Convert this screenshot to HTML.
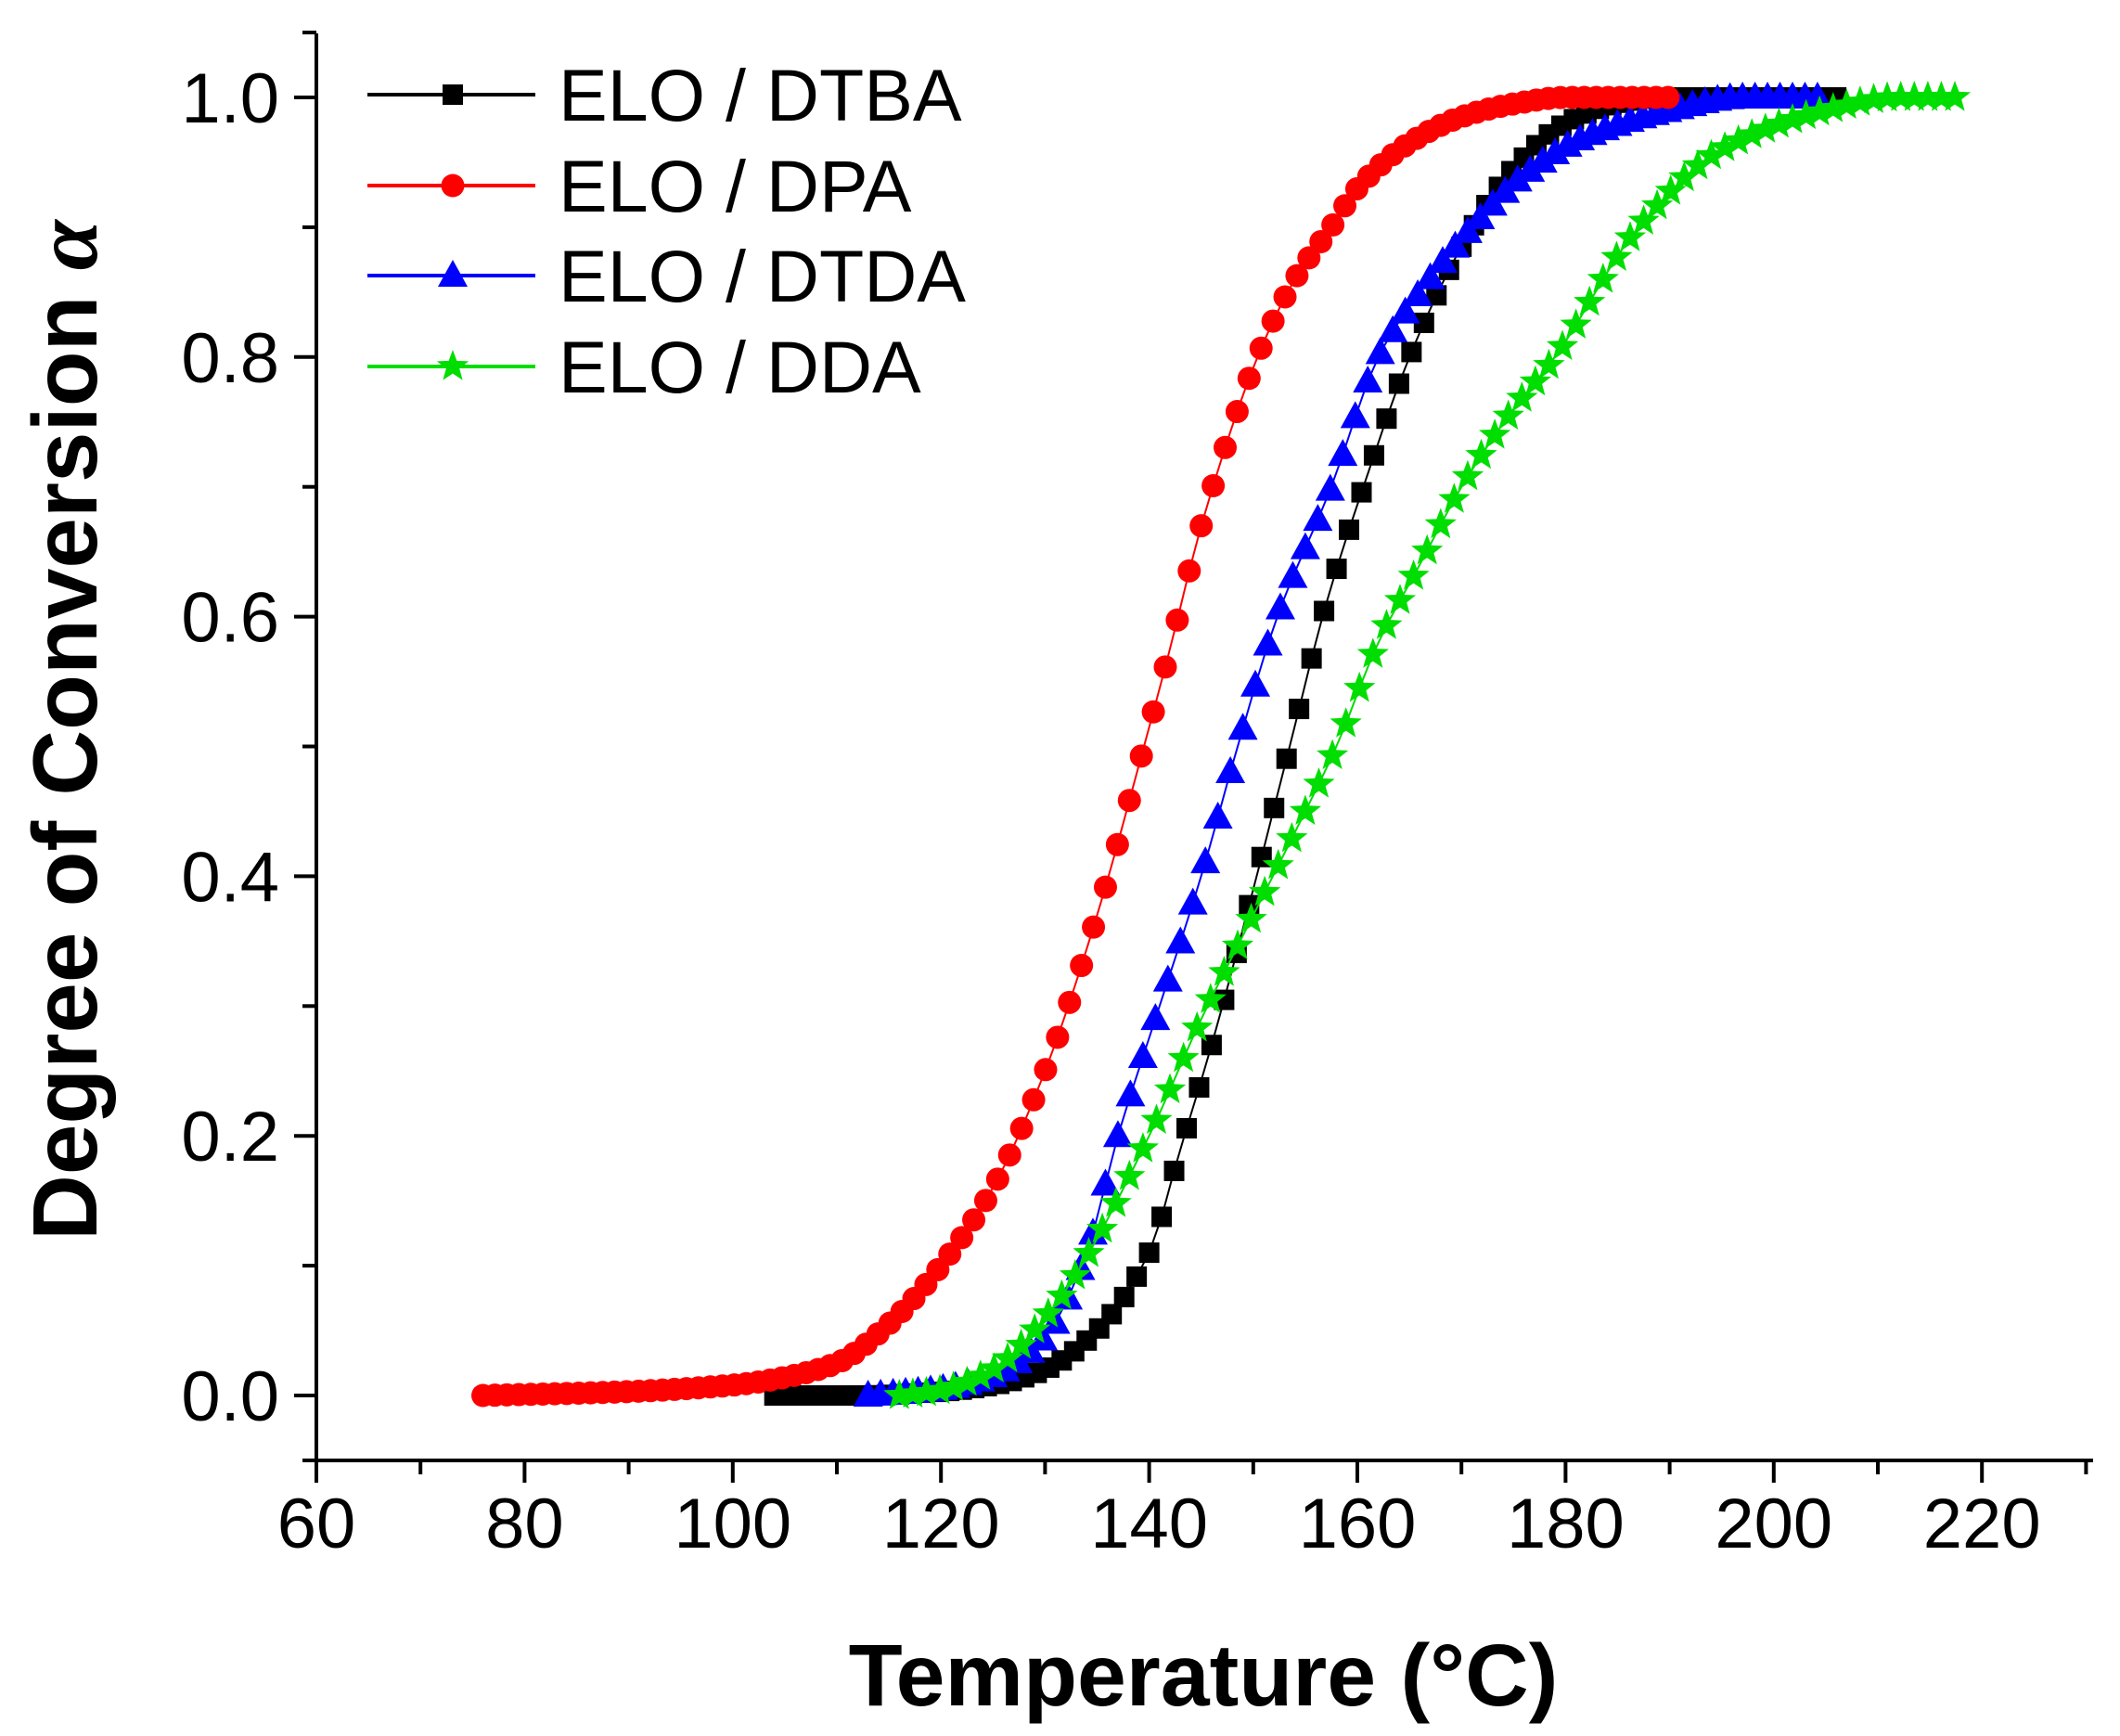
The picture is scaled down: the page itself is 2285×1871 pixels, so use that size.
<!DOCTYPE html>
<html><head><meta charset="utf-8"><style>
html,body{margin:0;padding:0;background:#fff}
svg{display:block}
text{font-family:"Liberation Sans",Arial,sans-serif}
</style></head><body>
<svg id="s" width="2285" height="1871" viewBox="0 0 2285 1871" xmlns="http://www.w3.org/2000/svg">
<g id="plot"></g>
<g stroke="#000" stroke-width="4" fill="none">
<line x1="341" y1="36" x2="341" y2="1576"/>
<line x1="339" y1="1574" x2="2256" y2="1574"/>
</g>
<g id="ticks" stroke="#000" stroke-width="4"></g>
<g id="labels" font-size="76" fill="#000"></g>
<text x="1297" y="1838" font-size="95" font-weight="bold" text-anchor="middle">Temperature (°C)</text>
<text transform="translate(104,787) rotate(-90)" font-size="98" font-weight="bold" text-anchor="middle">Degree of Conversion <tspan font-style="italic" font-family="Liberation Serif, serif">α</tspan></text>
<g id="legend"></g>
</svg>
<script>
var NS="http://www.w3.org/2000/svg";
function X(t){return 341+(t-60)*11.22;}
function Y(a){return 1504-a*1399;}
function el(p,n,at,txt){var e=document.createElementNS(NS,n);for(var k in at)e.setAttribute(k,at[k]);if(txt!=null)e.textContent=txt;p.appendChild(e);return e;}
var tk=document.getElementById('ticks'),lb=document.getElementById('labels');
for(var t=60;t<=230;t+=10){var maj=(t%20==0);el(tk,'line',{x1:X(t),y1:1574,x2:X(t),y2:1574+(maj?24:15)});
 if(maj)el(lb,'text',{x:X(t),y:1668,'text-anchor':'middle'},t);}
for(var k=0;k<=10;k++){var a=k/10;var maj=(k%2==0);el(tk,'line',{x1:341,y1:Y(a),x2:341-(maj?24:15),y2:Y(a)});
 if(maj)el(lb,'text',{x:301,y:Y(a)+27,'text-anchor':'end'},a.toFixed(1));}
el(tk,'line',{x1:341,y1:Y(-0.05),x2:326,y2:Y(-0.05)});
el(tk,'line',{x1:341,y1:Y(1.05),x2:326,y2:Y(1.05)});
function mk(pts){var n=pts.length,x=pts.map(p=>p[0]),y=pts.map(p=>p[1]),d=[],m=[];
 for(var i=0;i<n-1;i++)d.push((y[i+1]-y[i])/(x[i+1]-x[i]));
 m[0]=d[0];m[n-1]=d[n-2];
 for(var i=1;i<n-1;i++){m[i]=(d[i-1]*d[i]<=0)?0:2/(1/d[i-1]+1/d[i]);}
 return function(t){if(t<=x[0])return y[0];if(t>=x[n-1])return y[n-1];
  for(var i=0;i<n-1;i++)if(t<=x[i+1]){var h=x[i+1]-x[i],s=(t-x[i])/h;
   var h00=2*s*s*s-3*s*s+1,h10=s*s*s-2*s*s+s,h01=-2*s*s*s+3*s*s,h11=s*s*s-s*s;
   return h00*y[i]+h10*h*m[i]+h01*y[i+1]+h11*h*m[i+1];}};}
var series=[
{c:'#000',m:'sq',step:1.2,pts:[[104,0],[112,0],[120,0.003],[125,0.008],[130,0.02],[135,0.05],[140,0.11],[143,0.19],[146,0.27],[150,0.39],[153.5,0.5],[157,0.61],[161,0.71],[165,0.8],[170,0.885],[175,0.945],[180,0.98],[185,0.995],[190,1],[207,1]]},
{c:'#0000ff',m:'tri',step:1.2,pts:[[113,0],[120,0.005],[125,0.015],[130,0.045],[134,0.11],[137,0.2],[141,0.3],[145,0.4],[148.5,0.5],[152.3,0.6],[157.5,0.7],[162,0.8],[166,0.85],[171,0.9],[176,0.94],[182,0.97],[190,0.99],[197,1],[205,1]]},
{c:'#00dd00',m:'star',step:1.3,pts:[[116,0],[120,0.004],[125,0.02],[130,0.06],[133.5,0.1],[140,0.2],[145,0.29],[150,0.37],[155,0.45],[158,0.5],[162,0.58],[166,0.64],[170,0.7],[175,0.76],[179,0.8],[187,0.9],[195,0.96],[205,0.99],[212,1],[218,1]]},
{c:'#ff0000',m:'ci',step:1.15,pts:[[76,0],[90,0.003],[100,0.008],[105,0.014],[110,0.025],[115,0.055],[120,0.1],[125,0.16],[130,0.25],[135,0.37],[139.5,0.5],[142,0.575],[145,0.67],[150.4,0.8],[154,0.86],[157.5,0.9],[160,0.93],[165,0.965],[170,0.985],[175,0.995],[180,1],[190,1]]}
];
function star(cx,cy,r){var p=[];for(var i=0;i<10;i++){var rr=i%2?r*0.42:r;var an=-Math.PI/2+i*Math.PI/5;p.push((cx+rr*Math.cos(an)).toFixed(1)+','+(cy+rr*Math.sin(an)).toFixed(1));}return p.join(' ');}
function marker(g,m,x,y,c){
 if(m=='sq')el(g,'rect',{x:x-11,y:y-11,width:22,height:22,fill:c});
 else if(m=='ci')el(g,'circle',{cx:x,cy:y,r:12.5,fill:c});
 else if(m=='tri')el(g,'polygon',{points:(x)+','+(y-17)+' '+(x-16)+','+(y+12)+' '+(x+16)+','+(y+12),fill:c});
 else el(g,'polygon',{points:star(x,y,18),fill:c});}
var pg=document.getElementById('plot');
series.forEach(function(s){var f=mk(s.pts);var t0=s.pts[0][0],t1=s.pts[s.pts.length-1][0];var pts=[];
 for(var t=t0;t<=t1+0.01;t+=s.step){var a=Math.max(0,Math.min(1,f(t)));pts.push([X(t),Y(a)]);}
 el(pg,'polyline',{points:pts.map(function(p){return p[0].toFixed(1)+','+p[1].toFixed(1)}).join(' '),fill:'none',stroke:s.c,'stroke-width':2});
 pts.forEach(function(p){marker(pg,s.m,p[0],p[1],s.c);});});
var lg=document.getElementById('legend');
var names=['ELO / DTBA','ELO / DPA','ELO / DTDA','ELO / DDA'],cols=['#000','#ff0000','#0000ff','#00dd00'],ms=['sq','ci','tri','star'],ys=[102,200,297,395];
for(var i=0;i<4;i++){el(lg,'line',{x1:396,y1:ys[i],x2:577,y2:ys[i],stroke:cols[i],'stroke-width':4});
 marker(lg,ms[i],488,ys[i],cols[i]);
 el(lg,'text',{x:602,y:ys[i]+28,'font-size':79},names[i]);}
</script>
</body></html>
